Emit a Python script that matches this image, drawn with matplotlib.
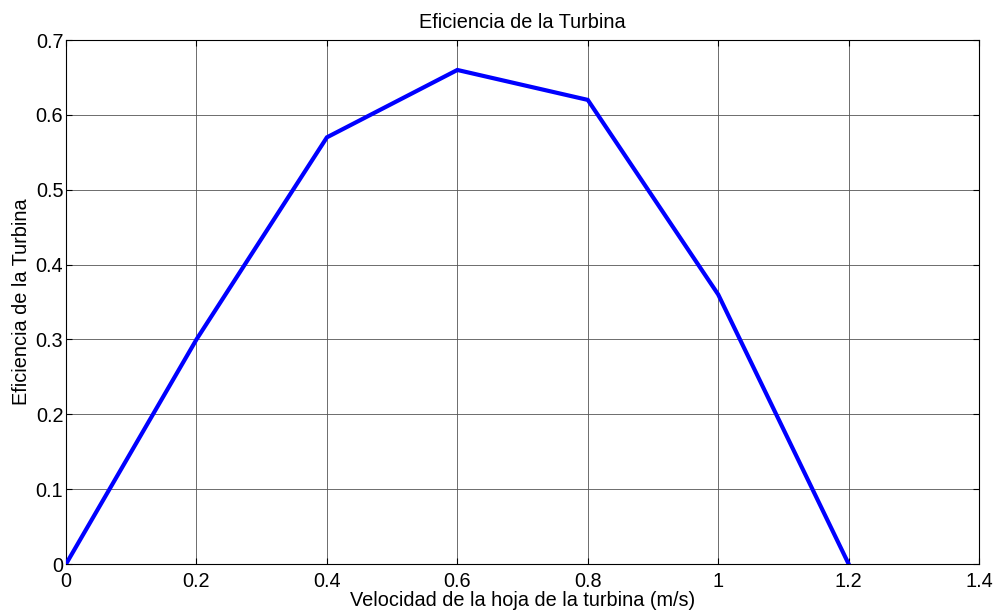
import matplotlib.pyplot as plt

# datos de la curva
velocidad = [0, 0.2, 0.4, 0.6, 0.8, 1.0, 1.2]
eficiencia = [0, 0.30, 0.57, 0.66, 0.62, 0.36, 0]
xticks = [0, 0.2, 0.4, 0.6, 0.8, 1, 1.2, 1.4]
xtick_labels = ['0', '0.2', '0.4', '0.6', '0.8', '1', '1.2', '1.4']
yticks = [0, 0.1, 0.2, 0.3, 0.4, 0.5, 0.6, 0.7]
ytick_labels = ['0', '0.1', '0.2', '0.3', '0.4', '0.5', '0.6', '0.7']

plt.rcParams['font.family'] = ['Liberation Sans', 'DejaVu Sans']
fs = 14.3

fig = plt.figure(figsize=(9.93, 6.12), dpi=100)
ax = fig.add_axes([0.0665, 0.0784, 0.9195, 0.8562])

ax.plot(velocidad, eficiencia, color='#0000ff', linewidth=3, solid_joinstyle='miter', zorder=3)

ax.set_xlim(0, 1.4)
ax.set_ylim(0, 0.7)
ax.set_xticks(xticks)
ax.set_xticklabels(xtick_labels)
ax.set_yticks(yticks)
ax.set_yticklabels(ytick_labels)
ax.tick_params(direction='in', length=4, width=0.8, labelsize=fs, pad=2,
               top=True, right=True)
ax.tick_params(axis='x', pad=6)
ax.grid(True, color='#555555', linewidth=0.6, linestyle='-')
for s in ax.spines.values():
    s.set_linewidth(0.8)

ax.set_title('Eficiencia de la Turbina', fontsize=fs, pad=9)
ax.set_xlabel('Velocidad de la hoja de la turbina (m/s)', fontsize=fs, labelpad=0)
ax.set_ylabel('Eficiencia de la Turbina', fontsize=fs, labelpad=3)

fig.savefig('out.png', dpi=100)
plt.close(fig)
